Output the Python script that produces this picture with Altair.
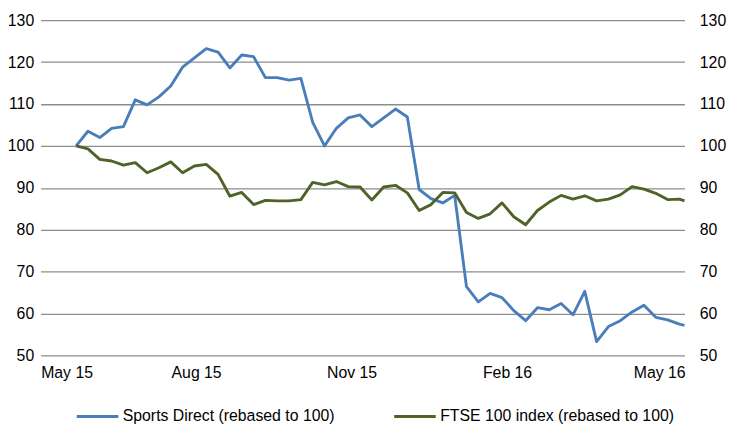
import altair as alt
import pandas as pd

series_names = ["Sports Direct (rebased to 100)", "FTSE 100 index (rebased to 100)"]

dates = list(pd.date_range("2015-05-22", periods=52, freq="7D").strftime("%Y-%m-%d")) + ["2016-05-16"]

sports_direct = [100, 103.5, 102.0, 104.2, 104.6, 111.0, 109.8, 111.7, 114.3, 118.8,
                 121.0, 123.2, 122.4, 118.6, 121.7, 121.3, 116.3, 116.3, 115.7, 116.1,
                 105.6, 100.0, 104.2, 106.7, 107.4, 104.6, 106.7, 108.8, 106.9, 89.6,
                 87.4, 86.4, 88.2, 66.4, 62.8, 64.8, 63.8, 60.7, 58.3, 61.4,
                 60.9, 62.4, 59.7, 65.3, 53.3, 56.9, 58.3, 60.4, 62.0, 59.1,
                 58.5, 57.5, 57.2]

ftse100 = [100, 99.3, 96.8, 96.4, 95.4, 96.0, 93.6, 94.8, 96.2, 93.6,
           95.2, 95.6, 93.2, 88.0, 88.9, 86.0, 87.0, 86.9, 86.9, 87.2,
           91.3, 90.7, 91.5, 90.3, 90.2, 87.1, 90.2, 90.6, 88.8, 84.6,
           86.0, 88.9, 88.8, 84.1, 82.7, 83.8, 86.4, 83.1, 81.2, 84.6,
           86.6, 88.2, 87.3, 88.1, 86.9, 87.3, 88.3, 90.3, 89.7, 88.7,
           87.2, 87.3, 86.9]

y_ticks = [50, 60, 70, 80, 90, 100, 110, 120, 130]

rows = []
for d, v in zip(dates, sports_direct):
    rows.append({"date": d, "value": v, "series": series_names[0]})
for d, v in zip(dates, ftse100):
    rows.append({"date": d, "value": v, "series": series_names[1]})
df = pd.DataFrame(rows)

FONT = "Liberation Sans"

x_enc = alt.X(
    "date:T",
    scale=alt.Scale(
        type="utc",
        domain=[alt.DateTime(year=2015, month=5, date=1, utc=True),
                alt.DateTime(year=2016, month=5, date=16, utc=True)],
    ),
    axis=alt.Axis(
        values=[alt.DateTime(year=2015, month=5, date=1, utc=True),
                alt.DateTime(year=2015, month=8, date=1, utc=True),
                alt.DateTime(year=2015, month=11, date=1, utc=True),
                alt.DateTime(year=2016, month=2, date=1, utc=True),
                alt.DateTime(year=2016, month=5, date=1, utc=True)],
        labelExpr="utcFormat(datum.value, '%b %y')", title=None, grid=False,
        domain=False, ticks=False, tickSize=0, labelPadding=9,
        labelFont=FONT, labelFontSize=16, labelColor="#000",
        labelOverlap=False,
    ),
)

base = alt.Chart(df)

lines = base.mark_line(strokeJoin="round", strokeWidth=2.9).encode(
    x=x_enc,
    y=alt.Y("value:Q", scale=alt.Scale(domain=[50, 130], nice=False, zero=False),
            axis=alt.Axis(orient="left", values=y_ticks, title=None, grid=True,
                          gridColor="#8c8c8c", gridWidth=1.3, domain=False,
                          ticks=False, tickSize=0, labelPadding=7,
                          labelFont=FONT, labelFontSize=16, labelColor="#000")),
    color=alt.Color("series:N",
                    scale=alt.Scale(domain=series_names, range=["#4a7ebb", "#4f6228"]),
                    legend=alt.Legend(
                        title=None, orient="none", legendX=35, legendY=378,
                        direction="horizontal", symbolType="stroke",
                        symbolSize=1764, symbolStrokeWidth=3, labelOffset=3,
                        columnPadding=53, padding=0, labelLimit=400,
                        labelFont=FONT, labelFontSize=16, labelColor="#000")),
)

right = base.mark_line(opacity=0).encode(
    x=x_enc,
    y=alt.Y("value:Q", scale=alt.Scale(domain=[50, 130], nice=False, zero=False),
            axis=alt.Axis(orient="right", values=y_ticks, title=None, grid=False,
                          domain=False, ticks=False, tickSize=0, labelPadding=15,
                          labelFont=FONT, labelFontSize=16, labelColor="#000")),
    detail="series:N",
)

chart = alt.layer(lines, right).resolve_scale(y="independent").properties(
    width=651, height=339,
    autosize=alt.AutoSizeParams(type="none"),
    padding={"left": 33, "top": 10, "right": 44, "bottom": 70},
).configure_view(stroke=None)

chart.save("out.html", embed_options={"renderer": "svg", "actions": False})
